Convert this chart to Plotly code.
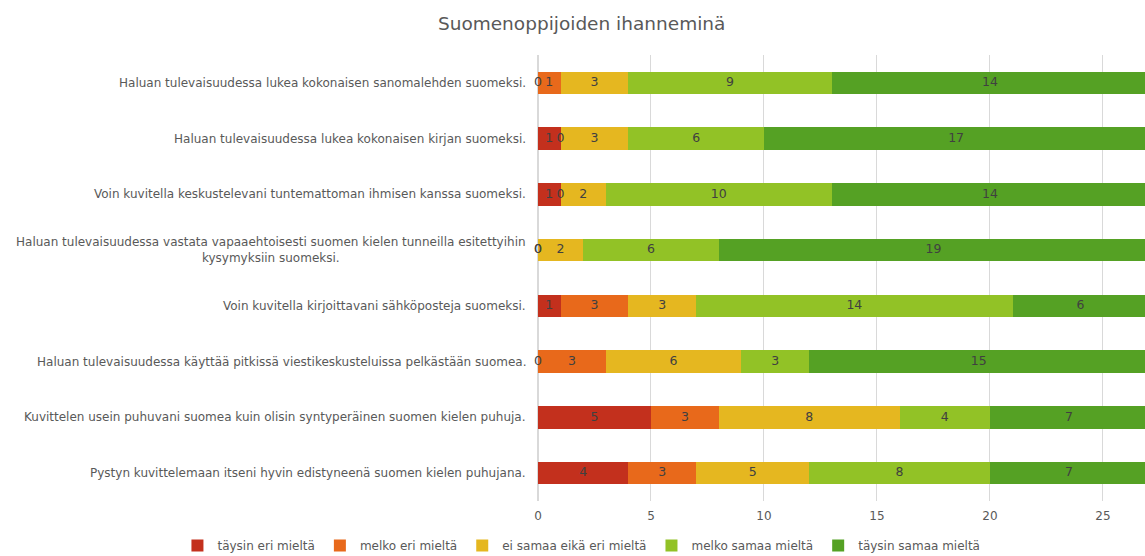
import plotly.graph_objects as go

categories = [
    "Haluan tulevaisuudessa lukea kokonaisen sanomalehden suomeksi.",
    "Haluan tulevaisuudessa lukea kokonaisen kirjan suomeksi.",
    "Voin kuvitella keskustelevani tuntemattoman ihmisen kanssa suomeksi.",
    "Haluan tulevaisuudessa vastata vapaaehtoisesti suomen kielen tunneilla esitettyihin<br>kysymyksiin suomeksi.",
    "Voin kuvitella kirjoittavani sähköposteja suomeksi.",
    "Haluan tulevaisuudessa käyttää pitkissä viestikeskusteluissa pelkästään suomea.",
    "Kuvittelen usein puhuvani suomea kuin olisin syntyperäinen suomen kielen puhuja.",
    "Pystyn kuvittelemaan itseni hyvin edistyneenä suomen kielen puhujana.",
]
series_names = ["täysin eri mieltä", "melko eri mieltä", "ei samaa eikä eri mieltä",
                "melko samaa mieltä", "täysin samaa mieltä"]
taysin_eri = [0, 1, 1, 0, 1, 0, 5, 4]
melko_eri = [1, 0, 0, 0, 3, 3, 3, 3]
ei_samaa_eika_eri = [3, 3, 2, 2, 3, 6, 8, 5]
melko_samaa = [9, 6, 10, 6, 14, 3, 4, 8]
taysin_samaa = [14, 17, 14, 19, 6, 15, 7, 7]
colors = ["#C3301D", "#E8691B", "#E5B720", "#92C226", "#55A124"]
x_ticks = [0, 5, 10, 15, 20, 25]

series = [taysin_eri, melko_eri, ei_samaa_eika_eri, melko_samaa, taysin_samaa]
FONT = "DejaVu Sans"
TXT = "#404040"
GREY = "#595959"

fig = go.Figure()
for name, vals, col in zip(series_names, series, colors):
    fig.add_trace(go.Bar(
        y=categories, x=vals, name=name, orientation="h",
        marker=dict(color=col, line=dict(width=0)),
        hoverinfo="x+name",
    ))

# value labels: centred in each segment; zero values drawn at the segment start
lx, ly, lt = [], [], []
for i, cat in enumerate(categories):
    cum = 0
    for vals in series:
        v = vals[i]
        lx.append(cum + v / 2)
        ly.append(cat)
        lt.append(str(v))
        cum += v
fig.add_trace(go.Scatter(x=lx, y=ly, mode="text", text=lt,
                         textfont=dict(family=FONT, size=12.5, color=TXT),
                         showlegend=False, cliponaxis=False, hoverinfo="skip"))

for cat in categories:
    fig.add_annotation(x=0, xref="paper", y=cat, yref="y", text=cat,
                       xanchor="right", xshift=-10, align="center", showarrow=False,
                       font=dict(family=FONT, size=12, color=GREY))

fig.update_layout(
    width=1145, height=556,
    barmode="stack", bargap=0.6,
    plot_bgcolor="white", paper_bgcolor="white",
    margin=dict(l=538, r=0, t=55, b=55, autoexpand=False),
    title=dict(text="Suomenoppijoiden ihanneminä", x=0.508, xanchor="center", y=0.958, yanchor="middle",
               font=dict(family=FONT, size=18.5, color=GREY)),
    xaxis=dict(range=[0, 26.86], tickvals=x_ticks, showgrid=True, gridcolor="#D9D9D9",
               zeroline=True, zerolinecolor="#D9D9D9", showline=False, ticklabelstandoff=6,
               tickfont=dict(family=FONT, size=12, color=GREY), ticks=""),
    yaxis=dict(autorange="reversed", showticklabels=False, showgrid=False, ticks=""),
    legend=dict(orientation="h", xref="paper", yref="paper", x=-0.594, xanchor="left",
                y=-0.1, yanchor="middle",
                font=dict(family=FONT, size=12, color=GREY), itemwidth=30,
                traceorder="normal"),
    showlegend=True,
)
fig.write_html("out.html", config={"displayModeBar": False},
               post_script="document.body.style.margin='0';document.body.style.overflow='hidden';")
